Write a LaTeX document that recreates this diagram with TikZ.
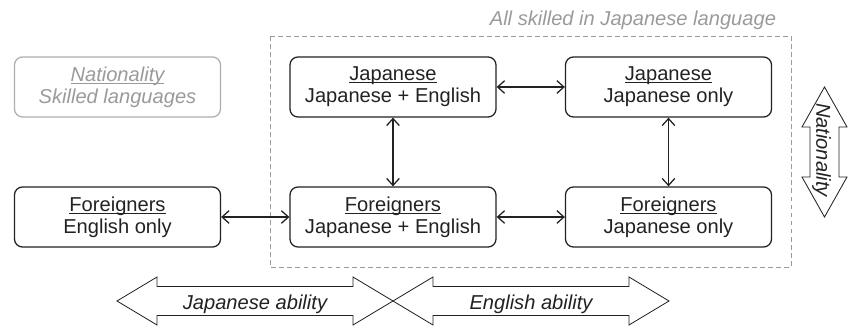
\documentclass[tikz,border=0pt]{standalone}
\usepackage{fontspec}
\setmainfont{Liberation Sans}
\usetikzlibrary{arrows.meta}
\definecolor{boxline}{HTML}{222222}
\definecolor{softgray}{HTML}{9A9A9A}
% underline that sits just below the baseline
\newcommand{\uln}[1]{\setbox0\hbox{#1}\rlap{\rule[-1.8pt]{\wd0}{0.7pt}}\box0}

\begin{document}
\begin{tikzpicture}[x=0.025cm, y=-0.025cm,
    font=\fontsize{14.3}{15.6}\selectfont,
    group/.style={draw=boxline, line width=0.9pt, rounded corners=0.2cm,
      minimum width=5.15cm, minimum height=1.5cm, align=center, text=boxline},
    legend/.style={group, draw=softgray!80, text=softgray,
      font=\fontsize{14.3}{15.6}\selectfont\itshape},
    link/.style={<->, >={Straight Barb[length=5pt,width=9pt]},
      line width=0.9pt, draw=boxline},
    bigarrow/.style={draw=boxline, line width=0.6pt, fill=white},
    arrowtext/.style={text=boxline, font=\fontsize{14.3}{15.6}\selectfont\itshape}]
  \useasboundingbox (0,0) rectangle (849,326);

  % region of people skilled in Japanese
  \draw[softgray, line width=0.7pt, dash pattern=on 3.5pt off 2.2pt]
    (270,36) rectangle (791,267);
  \node[softgray, anchor=east, font=\fontsize{14.3}{15.6}\selectfont\itshape]
    (skilled) at (781,20) {All skilled in Japanese language};

  \node[legend] (key) at (117.5,87) {\uln{Nationality}\\Skilled languages};
  \node[group] (jpboth) at (393,87) {\uln{Japanese}\\Japanese + English};
  \node[group] (jponly) at (668.5,87) {\uln{Japanese}\\Japanese only};
  \node[group] (fgen) at (117.5,217) {\uln{Foreigners}\\English only};
  \node[group] (fgboth) at (393,217) {\uln{Foreigners}\\Japanese + English};
  \node[group] (fgjp) at (668.5,217) {\uln{Foreigners}\\Japanese only};

  \draw[link] (jpboth) -- (jponly);
  \draw[link] (fgen) -- (fgboth);
  \draw[link] (fgboth) -- (fgjp);
  \draw[link] (jpboth) -- (fgboth);
  \draw[link] (jponly) -- (fgjp);

  % ability axes
  \draw[bigarrow] (117,301) -- (157,277) -- (157,286.5) -- (353,286.5) -- (353,277)
    -- (393,301) -- (353,325) -- (353,315.5) -- (157,315.5) -- (157,325) -- cycle;
  \draw[bigarrow] (393,301) -- (433,277) -- (433,286.5) -- (629,286.5) -- (629,277)
    -- (669,301) -- (629,325) -- (629,315.5) -- (433,315.5) -- (433,325) -- cycle;
  \node[arrowtext] (jpability) at (255,304) {Japanese ability};
  \node[arrowtext] (enability) at (531,304) {English ability};

  % nationality axis
  \draw[bigarrow] (824.5,87) -- (847,127) -- (839,127) -- (839,177) -- (847,177)
    -- (824.5,217) -- (802,177) -- (810,177) -- (810,127) -- (802,127) -- cycle;
  \node[arrowtext, rotate=-90] (natlabel) at (821.5,150) {Nationality};
\end{tikzpicture}
\end{document}
